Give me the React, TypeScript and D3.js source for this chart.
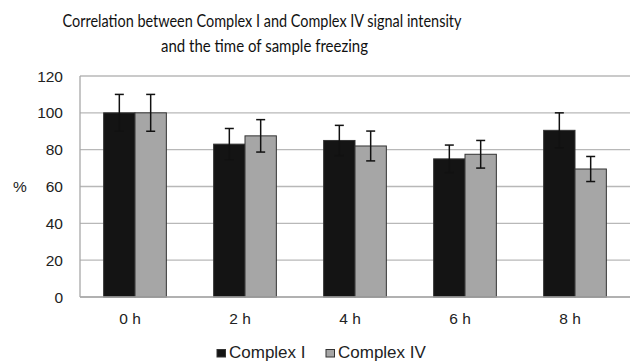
import React from "react";
import * as d3 from "d3";

const categories = ["0 h", "2 h", "4 h", "6 h", "8 h"];
const seriesNames = ["Complex I", "Complex IV"];
const complexI = [100, 83, 85, 75, 90.5];
const complexIErr = [10, 8.5, 8.2, 7.5, 9.5];
const complexIV = [100, 87.5, 82, 77.5, 69.5];
const complexIVErr = [10, 8.8, 8.1, 7.5, 6.8];
const yTicks = [0, 20, 40, 60, 80, 100, 120];
const titleLines = [
  "Correlation between Complex I and Complex IV signal intensity",
  "and the time of sample freezing",
];

const W = 630;
const H = 361;
const left = 80;
const right = 630;
const top = 76;
const bottom = 297;
const colors = ["#141414", "#a6a6a6"];

export default function App() {
  const x = d3
    .scaleBand<string>()
    .domain(categories)
    .range([left, right])
    .paddingInner(0.43)
    .paddingOuter(0.215);
  const xs = d3
    .scaleBand<string>()
    .domain(seriesNames)
    .range([0, x.bandwidth()]);
  const y = d3.scaleLinear().domain([0, 120]).range([bottom, top]);

  const series = [
    { name: seriesNames[0], values: complexI, errs: complexIErr, color: colors[0] },
    { name: seriesNames[1], values: complexIV, errs: complexIVErr, color: colors[1] },
  ];
  const axisFont = "'Liberation Sans', Arial, sans-serif";
  const titleFont = "Lato, 'Open Sans', sans-serif";

  return (
    <svg
      width={W}
      height={H}
      style={{ position: "absolute", left: 0, top: 0, background: "#fff" }}
    >
      <rect x={0} y={0} width={W} height={H} fill="#fff" />
      {/* title */}
      <text
        x={262}
        y={27}
        textAnchor="middle"
        fontFamily={titleFont}
        fontSize={17}
        fill="#111"
        textLength={399}
        lengthAdjust="spacingAndGlyphs"
      >
        {titleLines[0]}
      </text>
      <text
        x={264.5}
        y={52}
        textAnchor="middle"
        fontFamily={titleFont}
        fontSize={17}
        fill="#111"
        textLength={207}
        lengthAdjust="spacingAndGlyphs"
      >
        {titleLines[1]}
      </text>

      {/* gridlines */}
      {yTicks.map((t) => (
        <line
          key={"g" + t}
          x1={left}
          x2={right}
          y1={y(t)}
          y2={y(t)}
          stroke="#b8b8b8"
          strokeWidth={1.3}
        />
      ))}
      {/* y tick labels */}
      {yTicks.map((t) => (
        <text
          key={"t" + t}
          x={63}
          y={y(t) + 5.5}
          textAnchor="end"
          fontFamily={axisFont}
          fontSize={15.5}
          fill="#222"
        >
          {t}
        </text>
      ))}
      <text
        x={20}
        y={y(60) + 5.5}
        textAnchor="middle"
        fontFamily={axisFont}
        fontSize={15.5}
        fill="#222"
      >
        %
      </text>

      {/* bars */}
      {series.map((s) =>
        categories.map((c, i) => (
          <rect
            key={s.name + c}
            x={(x(c) as number) + (xs(s.name) as number)}
            y={y(s.values[i])}
            width={xs.bandwidth()}
            height={y(0) - y(s.values[i])}
            fill={s.color}
            stroke="#333"
            strokeWidth={1}
          />
        ))
      )}
      {/* error bars */}
      {series.map((s) =>
        categories.map((c, i) => {
          const cx = (x(c) as number) + (xs(s.name) as number) + xs.bandwidth() / 2;
          const hi = y(s.values[i] + s.errs[i]);
          const lo = y(s.values[i] - s.errs[i]);
          return (
            <g key={"e" + s.name + c} stroke="#111" strokeWidth={1.5}>
              <line x1={cx} x2={cx} y1={hi} y2={lo} />
              <line x1={cx - 4.5} x2={cx + 4.5} y1={hi} y2={hi} />
              <line x1={cx - 4.5} x2={cx + 4.5} y1={lo} y2={lo} />
            </g>
          );
        })
      )}

      {/* axes */}
      <line x1={left} x2={left} y1={top} y2={bottom} stroke="#a8a8a8" strokeWidth={1.3} />
      <line x1={left} x2={right} y1={bottom} y2={bottom} stroke="#a8a8a8" strokeWidth={1.5} />

      {/* x labels */}
      {categories.map((c) => (
        <text
          key={"x" + c}
          x={(x(c) as number) + x.bandwidth() / 2 - 5}
          y={324}
          textAnchor="middle"
          fontFamily={axisFont}
          fontSize={15.5}
          fill="#222"
        >
          {c}
        </text>
      ))}

      {/* legend */}
      {series.map((s, i) => {
        const lx = [217, 326][i];
        return (
          <g key={"l" + s.name}>
            <rect
              x={lx}
              y={349.5}
              width={8.5}
              height={7.5}
              fill={s.color}
              stroke="#333"
              strokeWidth={1}
            />
            <text
              x={lx + 12}
              y={358}
              fontFamily={axisFont}
              fontSize={17}
              fill="#222"
            >
              {s.name}
            </text>
          </g>
        );
      })}
    </svg>
  );
}
